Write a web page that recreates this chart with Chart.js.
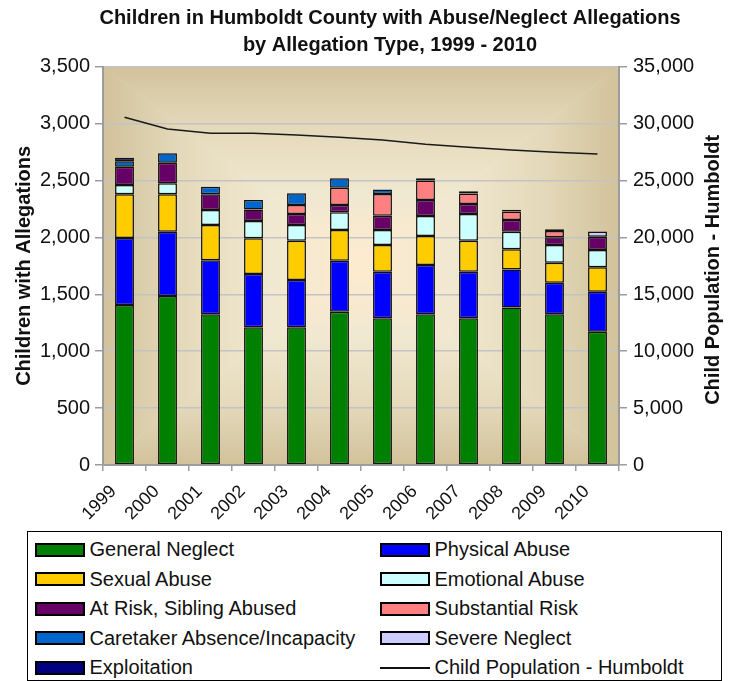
<!DOCTYPE html>
<html lang="en">
<head>
    <meta charset="UTF-8">
    <title>Children in Humboldt County with Abuse/Neglect Allegations</title>
    <script src="https://cdn.jsdelivr.net/npm/chart.js"></script>
    <style>
        body {
            margin: 0;
            background: #fff;
            font-family: "Liberation Sans", Arial, sans-serif;
        }
        #wrap {
            position: relative;
            width: 737px;
            height: 681px;
        }
        #legend {
            position: absolute;
            left: 27px;
            top: 531px;
            width: 695px;
            height: 150px;
            box-sizing: border-box;
            border: 1.5px solid #000;
            padding: 3px 0 0 6.5px;
            display: grid;
            grid-template-columns: 345px 1fr;
            grid-auto-rows: 29.5px;
            font-size: 20px;
            color: #111;
        }
        .item {
            display: flex;
            align-items: center;
            white-space: nowrap;
        }
        .swatch {
            width: 50px;
            height: 14px;
            box-sizing: border-box;
            border: 2px solid #000;
            margin-right: 5px;
            flex: none;
        }
        .swatch.line {
            height: 2px;
            border: none;
            background: #111;
        }
    </style>
</head>
<body>
    <div id="wrap">
        <canvas id="chart" width="737" height="530"></canvas>
        <div id="legend"></div>
    </div>

    <script>
        const years = ['1999', '2000', '2001', '2002', '2003', '2004', '2005', '2006', '2007', '2008', '2009', '2010'];

        // children with allegations, by type (stacked bottom to top)
        const generalNeglect   = [1405, 1485, 1325, 1210, 1210, 1347, 1289, 1324, 1289, 1385, 1324, 1171];
        const physicalAbuse    = [590, 565, 475, 468, 416, 448, 410, 433, 410, 334, 278, 352];
        const sexualAbuse      = [385, 330, 310, 314, 345, 270, 234, 255, 272, 176, 176, 214];
        const emotionalAbuse   = [80, 95, 130, 152, 138, 155, 132, 176, 235, 155, 155, 152];
        const atRiskSibling    = [160, 180, 140, 102, 97, 65, 126, 141, 87, 103, 68, 117];
        const substantialRisk  = [0, 0, 0, 0, 79, 152, 190, 170, 93, 75, 55, 0];
        const caretakerAbsence = [50, 85, 65, 82, 102, 82, 40, 0, 0, 0, 0, 0];
        const severeNeglect    = [0, 0, 0, 0, 0, 0, 0, 0, 0, 0, 0, 45];
        const exploitation     = [30, 0, 0, 0, 0, 0, 0, 20, 20, 15, 15, 0];

        // total child population of the county (right axis)
        const childPopulation = [30550, 29520, 29150, 29150, 29000, 28800, 28560, 28180, 27920, 27680, 27480, 27330];

        const leftTicks = [0, 500, 1000, 1500, 2000, 2500, 3000, 3500];
        const rightTicks = [0, 5000, 10000, 15000, 20000, 25000, 30000, 35000];

        const titleLines = ['Children in Humboldt County with Abuse/Neglect Allegations', 'by Allegation Type, 1999 - 2010'];

        const series = [
            { label: 'General Neglect', data: generalNeglect, color: '#008000' },
            { label: 'Physical Abuse', data: physicalAbuse, color: '#0000ff' },
            { label: 'Sexual Abuse', data: sexualAbuse, color: '#ffcc00' },
            { label: 'Emotional Abuse', data: emotionalAbuse, color: '#ccffff' },
            { label: 'At Risk, Sibling Abused', data: atRiskSibling, color: '#660066' },
            { label: 'Substantial Risk', data: substantialRisk, color: '#ff8080' },
            { label: 'Caretaker Absence/Incapacity', data: caretakerAbsence, color: '#0066cc' },
            { label: 'Severe Neglect', data: severeNeglect, color: '#ccccff' },
            { label: 'Exploitation', data: exploitation, color: '#000080' }
        ];

        const FONT = '"Liberation Sans", Arial, sans-serif';
        const axisGray = '#9c9c9c';

        // tan-to-cream "from center" fill behind the plot
        const plotBackground = {
            id: 'plotBackground',
            beforeDraw(chart) {
                const { ctx, chartArea: a } = chart;
                const cx = (a.left + a.right) / 2;
                const cy = (a.top + a.bottom) / 2;
                const pts = [[a.left, a.top], [a.right, a.top], [a.right, a.bottom], [a.left, a.bottom]];
                ctx.save();
                for (let i = 0; i < 4; i++) {
                    const p = pts[i], q = pts[(i + 1) % 4];
                    const mx = (p[0] + q[0]) / 2, my = (p[1] + q[1]) / 2;
                    const g = ctx.createLinearGradient(mx, my, i % 2 === 0 ? mx : cx, i % 2 === 0 ? cy : my);
                    g.addColorStop(0, '#d1c29b');
                    g.addColorStop(0.3, '#e4d9ba');
                    g.addColorStop(0.65, '#f1e8d1');
                    g.addColorStop(1, '#fdebcf');
                    ctx.fillStyle = g;
                    ctx.beginPath();
                    ctx.moveTo(p[0], p[1]);
                    ctx.lineTo(q[0], q[1]);
                    ctx.lineTo(cx, cy);
                    ctx.closePath();
                    ctx.fill();
                    ctx.strokeStyle = g;
                    ctx.lineWidth = 0.6;
                    ctx.stroke();
                }
                ctx.restore();
            }
        };

        // chart title (centred a little right of the canvas middle) and the
        // right axis title, which reads bottom-to-top like the left one
        const titles = {
            id: 'titles',
            afterDraw(chart) {
                const { ctx, chartArea: a } = chart;
                ctx.save();
                ctx.fillStyle = '#111';
                ctx.textAlign = 'center';
                ctx.textBaseline = 'middle';
                ctx.font = 'bold 20px ' + FONT;
                titleLines.forEach((t, i) => ctx.fillText(t, 390, 18 + i * 27));
                ctx.translate(713, (a.top + a.bottom) / 2 + 4);
                ctx.rotate(-Math.PI / 2);
                ctx.fillText('Child Population - Humboldt', 0, 0);
                ctx.restore();
            }
        };

        const datasets = series.map(s => ({
            type: 'bar',
            label: s.label,
            data: s.data,
            backgroundColor: s.color,
            borderColor: '#111',
            borderWidth: 1.5,
            borderSkipped: false,
            categoryPercentage: 1,
            barPercentage: 0.44,
            yAxisID: 'y',
            order: 1
        }));
        datasets.push({
            type: 'line',
            label: 'Child Population - Humboldt',
            data: childPopulation,
            borderColor: '#1a1a1a',
            borderWidth: 1.6,
            pointRadius: 0,
            tension: 0,
            yAxisID: 'y1',
            order: 0
        });

        new Chart(document.getElementById('chart'), {
            data: { labels: years, datasets },
            plugins: [plotBackground, titles],
            options: {
                responsive: false,
                animation: false,
                layout: { padding: { top: 66.7 } },
                plugins: {
                    legend: { display: false },
                    tooltip: { enabled: false },
                    title: { display: false }
                },
                scales: {
                    x: {
                        stacked: true,
                        grid: { drawOnChartArea: false, drawTicks: true, tickLength: 6, color: axisGray, lineWidth: 1.5 },
                        border: { color: axisGray, width: 2 },
                        ticks: {
                            color: '#111',
                            font: { family: FONT, size: 18 },
                            minRotation: 45,
                            maxRotation: 45,
                            padding: 10,
                            labelOffset: -11
                        },
                        afterFit: s => { s.height = 65; }
                    },
                    y: {
                        stacked: true,
                        min: leftTicks[0],
                        max: leftTicks[leftTicks.length - 1],
                        afterBuildTicks: s => { s.ticks = leftTicks.map(v => ({ value: v })); },
                        grid: { color: '#c3c3c3', lineWidth: 1.5, tickLength: 8, tickColor: axisGray },
                        border: { color: axisGray, width: 2 },
                        ticks: { color: '#111', font: { family: FONT, size: 20 }, padding: 5 },
                        title: {
                            display: true,
                            text: 'Children with Allegations',
                            color: '#111',
                            font: { family: FONT, size: 20, weight: 'bold' },
                            padding: { top: 12, bottom: 0 }
                        },
                        afterFit: s => { s.width = 103; }
                    },
                    y1: {
                        position: 'right',
                        min: rightTicks[0],
                        max: rightTicks[rightTicks.length - 1],
                        afterBuildTicks: s => { s.ticks = rightTicks.map(v => ({ value: v })); },
                        grid: { drawOnChartArea: false, tickLength: 8, color: axisGray, lineWidth: 1.5 },
                        border: { color: axisGray, width: 2 },
                        ticks: { color: '#111', font: { family: FONT, size: 20 }, padding: 6 },
                        afterFit: s => { s.width = 118; }
                    }
                }
            }
        });

        // two-column legend under the chart
        const legendItems = series.map(s => ({ label: s.label, color: s.color }));
        legendItems.push({ label: 'Child Population - Humboldt', line: true });
        document.getElementById('legend').innerHTML = legendItems.map(it => `
            <div class="item">
                <span class="swatch${it.line ? ' line' : ''}" style="${it.line ? '' : 'background:' + it.color}"></span>
                <span>${it.label}</span>
            </div>
        `).join('');
    </script>
</body>
</html>
